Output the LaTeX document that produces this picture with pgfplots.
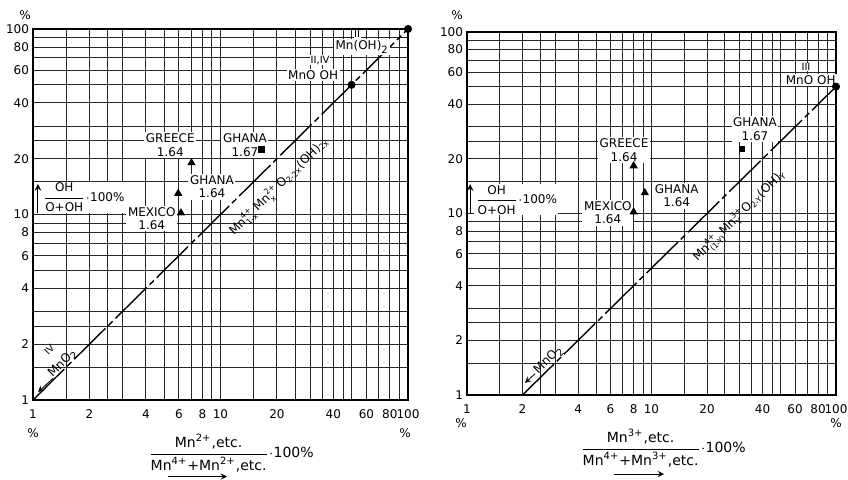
\documentclass[border=0pt]{standalone}
\usepackage{fontspec}
\setmainfont{DejaVu Sans}
\usepackage{pgfplots}
\pgfplotsset{compat=1.18}
\newcommand\sm[1]{\mbox{\fontsize{4}{4}\selectfont #1}}
\pgfplotsset{
  every axis/.append style={
    xmode=log, ymode=log, scale only axis, anchor=south west,
    xmin=1, xmax=100, ymin=1, ymax=100,
    xtick={1,2,4,6,8,10,20,40,60,80,100},
    xticklabels={1,2,4,6,8,10,20,40,60,80,100},
    ytick={1,2,4,6,8,10,20,40,60,80,100},
    yticklabels={1,2,4,6,8,10,20,40,60,80,100},
    minor xtick={1.5,2.5,3,5,7,9,15,25,30,35,45,50,70,90},
    minor ytick={1.5,2.5,3,5,7,9,15,25,30,50,70,90},
    grid=both,
    major grid style={black!85, line width=0.45pt},
    minor grid style={black!85, line width=0.45pt},
    major tick length=0pt, minor tick length=0pt,
    axis line style={black, line width=0.6pt},
    tick label style={font=\fontsize{6}{6}\selectfont, black},
    xticklabel style={yshift=-1.5pt},
    yticklabel style={xshift=1.5pt},
    clip=false,
  },
}
\tikzset{
  lbl/.style={font=\fontsize{6}{6.7}\selectfont, align=center, fill=white, inner sep=0.8pt},
  rom/.style={font=\fontsize{5}{5}\selectfont, inner sep=0.3pt, fill=white},
  diagline/.style={black, line width=0.7pt, dash pattern=on 22pt off 2pt on 3pt off 2pt},
}
\begin{document}
\begin{tikzpicture}[x=1pt,y=1pt]
\useasboundingbox (0,0) rectangle (424,239.5);
% ---------------- left panel
\begin{axis}[at={(16.5pt,39.5pt)}, width=187.5pt, height=185.5pt]
\addplot[diagline] coordinates {(1,1) (100,100)};
\addplot[only marks, mark=*, mark size=1.8pt, black] coordinates {(50,50) (100,100)};
\addplot[only marks, mark=triangle*, mark size=2pt, black] coordinates {(7,19) (5.95,13) (6.15,10.2)};
\addplot[only marks, mark=square*, mark size=1.5pt, black] coordinates {(16.6,22.5)};
\node[lbl] at (axis cs:5.4,23.7) {GREECE\\1.64};
\node[lbl] at (axis cs:13.5,23.7) {GHANA\\1.67};
\node[lbl] at (axis cs:9.0,14.1) {GHANA\\1.64};
\node[lbl] at (axis cs:4.3,9.5) {MEXICO\\1.64};
\node[lbl] at (axis cs:57,80) {Mn(OH)\textsubscript{2}};
\node[rom] at (axis cs:53.5,94) {II};
\node[lbl] at (axis cs:31.2,56.5) {MnO\,\,OH};
\node[rom] at (axis cs:34,68) {II,IV};
\node[font=\fontsize{6}{6}\selectfont, rotate=44.7, inner sep=0pt] at (axis cs:20.5,14.2)
  {Mn$^{\sm{4+}}_{\sm{1-x}}$\,Mn$^{\sm{2+}}_{\sm{x}}$\,O$_{\sm{2-2x}}$(OH)$_{\sm{2x}}$};
\node[font=\fontsize{6}{6}\selectfont, rotate=44.7, inner sep=0pt] at (axis cs:1.445,1.58) {MnO\textsubscript{2}};
\node[font=\fontsize{4.8}{4.8}\selectfont, rotate=44.7, inner sep=0pt] at (axis cs:1.22,1.87) {IV};
\draw[->, >=stealth, line width=0.4pt] (axis cs:1.28,1.31) -- (axis cs:1.064,1.104);
\draw[->, >=stealth, line width=0.5pt] (axis cs:1.063,10.2) -- (axis cs:1.063,14.6);
\node[anchor=west, fill=white, inner sep=0.5pt, font=\fontsize{6}{6}\selectfont] at (axis cs:1.11,12.4)
  {$\displaystyle{\mbox{OH}\over\mbox{O+OH}}$$\cdot$100\%};
\end{axis}
% ---------------- right panel
\begin{axis}[at={(233.5pt,42pt)}, width=184.5pt, height=181.5pt]
\addplot[diagline] coordinates {(2,1) (100,50)};
\addplot[only marks, mark=*, mark size=1.8pt, black] coordinates {(100,50)};
\addplot[only marks, mark=triangle*, mark size=2pt, black] coordinates {(8,18.3) (9.2,13) (8,10.2)};
\addplot[only marks, mark=square*, mark size=1.3pt, black] coordinates {(31,22.7)};
\node[lbl] at (axis cs:7.1,22.4) {GREECE\\1.64};
\node[lbl] at (axis cs:13.7,12.5) {GHANA\\1.64};
\node[lbl] at (axis cs:5.8,10.1) {MEXICO\\1.64};
\node[lbl] at (axis cs:36.4,29.2) {GHANA\\1.67};
\node[lbl] at (axis cs:73,54.4) {MnO\,\,OH};
\node[rom] at (axis cs:68.8,64) {III};
\node[font=\fontsize{6}{6}\selectfont, rotate=44.5, inner sep=0pt] at (axis cs:30.1,9.7)
  {Mn$^{\sm{4+}}_{\sm{(1-Y)}}$Mn$^{\sm{3+}}_{\sm{Y}}$O$_{\sm{2-Y}}$(OH)$_{\sm{Y}}$};
\node[font=\fontsize{6}{6}\selectfont, rotate=44.5, inner sep=0pt] at (axis cs:2.78,1.56) {MnO\textsubscript{2}};
\draw[->, >=stealth, line width=0.4pt] (axis cs:2.34,1.31) -- (axis cs:2.06,1.165);
\draw[->, >=stealth, line width=0.5pt] (axis cs:1.04,10.1) -- (axis cs:1.04,14.5);
\node[anchor=west, fill=white, inner sep=0.5pt, font=\fontsize{6}{6}\selectfont] at (axis cs:1.09,11.9)
  {$\displaystyle{\mbox{OH}\over\mbox{O+OH}}$$\cdot$100\%};
\end{axis}
% ---------------- percent signs
\begin{scope}[font=\fontsize{6}{6}\selectfont]
\node at (12.5,232) {\%};
\node at (16.5,23) {\%};
\node at (202.5,23) {\%};
\node at (228.5,232) {\%};
\node at (230.5,28) {\%};
\node at (418,28) {\%};
\end{scope}
% ---------------- x labels
\node[font=\fontsize{7}{7}\selectfont, inner sep=0pt] at (115.5,13)
  {$\displaystyle{\mbox{Mn\textsuperscript{2+},etc.}\over\mbox{Mn\textsuperscript{4+}+Mn\textsuperscript{2+},etc.}}\cdot$100\%};
\node[font=\fontsize{7}{7}\selectfont, inner sep=0pt] at (331.5,15.5)
  {$\displaystyle{\mbox{Mn\textsuperscript{3+},etc.}\over\mbox{Mn\textsuperscript{4+}+Mn\textsuperscript{3+},etc.}}\cdot$100\%};
\draw[->, >=stealth, line width=0.4pt] (84,1.2) -- (113.5,1.2);
\draw[->, >=stealth, line width=0.4pt] (307,2.5) -- (332,2.5);
\end{tikzpicture}
\end{document}
